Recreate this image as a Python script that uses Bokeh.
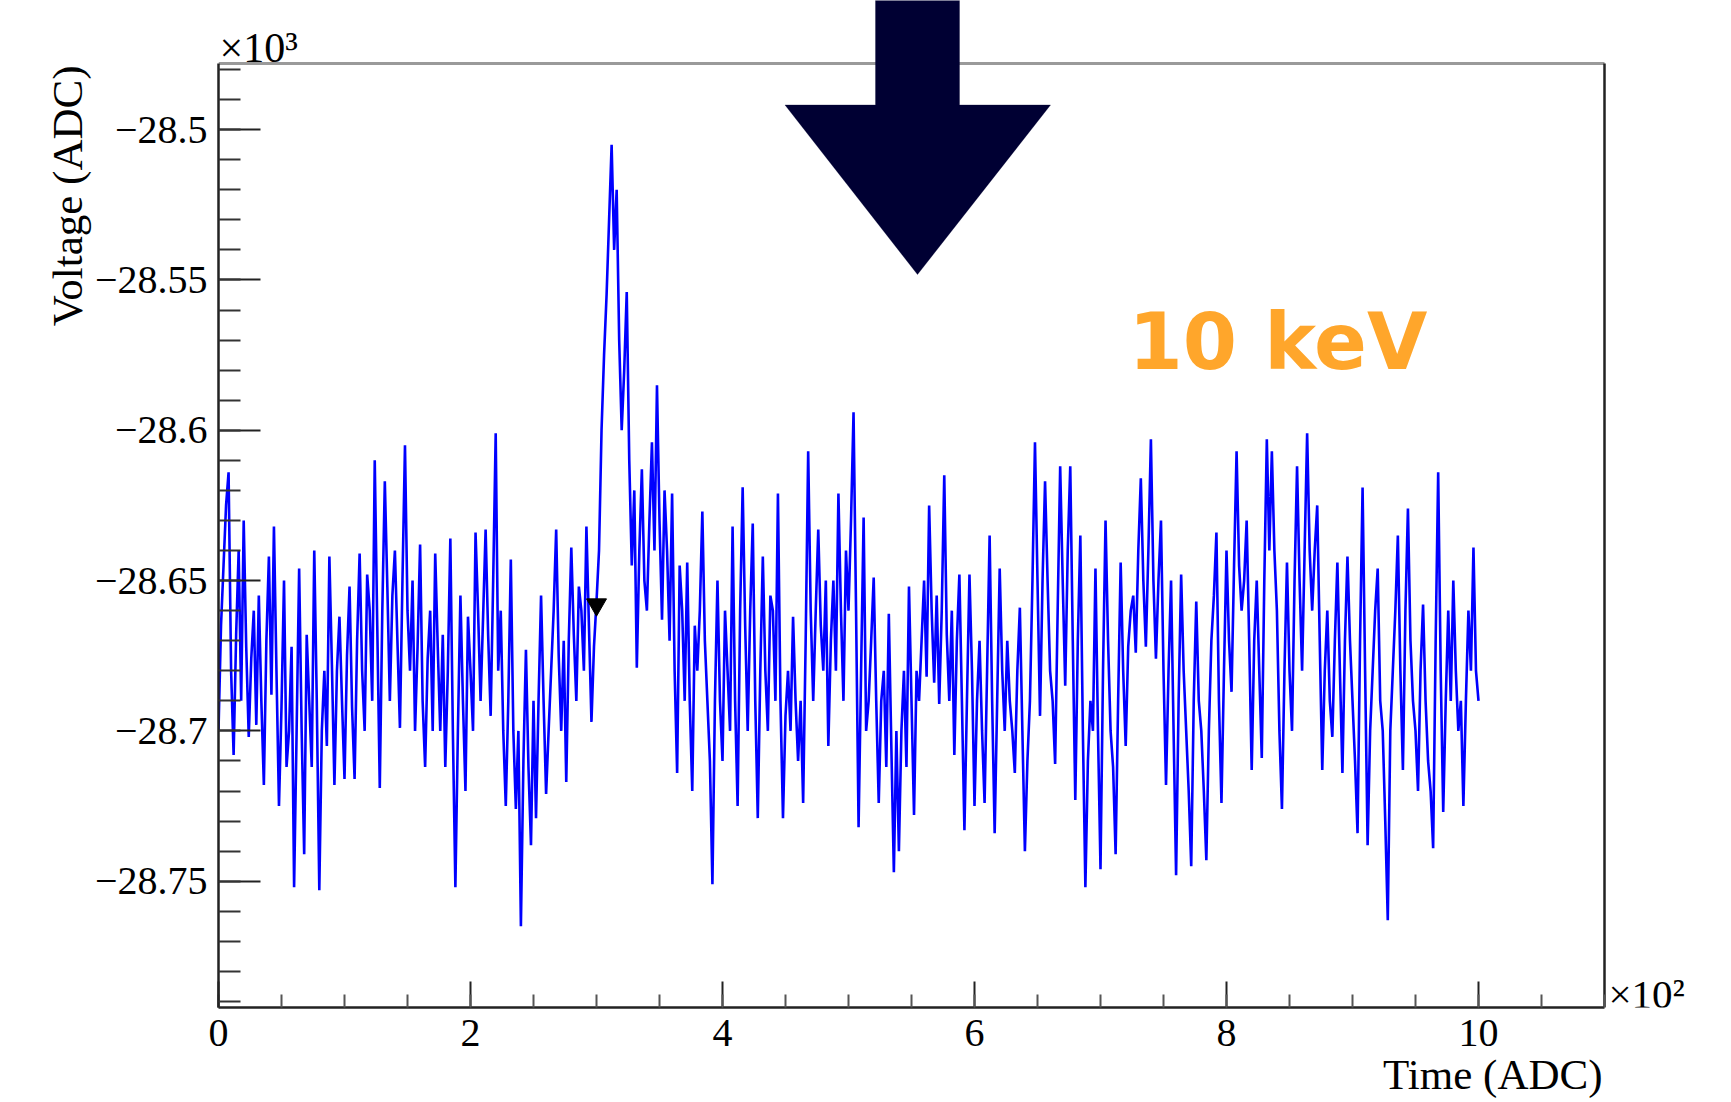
from bokeh.plotting import figure
from bokeh.models import (FixedTicker, CustomJSTickFormatter, Label, Title,
                          PolyAnnotation, Range1d, ColumnDataSource)
from bokeh.embed import file_html
from bokeh.resources import INLINE

# ---------------- data ----------------
# waveform sampled every 2 time bins (ADC); voltage in ADC counts
time = list(range(0, 1001, 2))
voltage = [
    -28700, -28665, -28645, -28625, -28614, -28680, -28708, -28668, -28640, -28690,
    -28630, -28672, -28702, -28676, -28660, -28698, -28655, -28690, -28718, -28670,
    -28642, -28688, -28632, -28680, -28725, -28692, -28650, -28712, -28700, -28672,
    -28752, -28700, -28646, -28700, -28741, -28668, -28690, -28712, -28640, -28690,
    -28753, -28700, -28680, -28705, -28642, -28678, -28718, -28680, -28662, -28690,
    -28716, -28675, -28652, -28692, -28716, -28670, -28641, -28680, -28700, -28648,
    -28660, -28690, -28610, -28665, -28719, -28660, -28617, -28652, -28690, -28655,
    -28640, -28670, -28699, -28650, -28605, -28660, -28680, -28650, -28700, -28672,
    -28638, -28690, -28712, -28676, -28660, -28700, -28641, -28672, -28700, -28668,
    -28712, -28680, -28636, -28700, -28752, -28700, -28655, -28690, -28720, -28662,
    -28680, -28700, -28634, -28660, -28690, -28662, -28633, -28668, -28695, -28650,
    -28601, -28680, -28660, -28700, -28725, -28690, -28643, -28700, -28726, -28700,
    -28765, -28710, -28673, -28712, -28738, -28690, -28729, -28690, -28655, -28690,
    -28721, -28700, -28680, -28660, -28633, -28675, -28700, -28670, -28717, -28670,
    -28639, -28668, -28690, -28652, -28660, -28680, -28632, -28665, -28697, -28672,
    -28657, -28640, -28600, -28575, -28555, -28530, -28505, -28540, -28520, -28570,
    -28600, -28580, -28554, -28610, -28645, -28620, -28679, -28640, -28613, -28650,
    -28660, -28630, -28604, -28640, -28585, -28630, -28663, -28620, -28640, -28670,
    -28621, -28680, -28714, -28645, -28660, -28690, -28644, -28690, -28720, -28665,
    -28680, -28660, -28627, -28670, -28690, -28710, -28751, -28690, -28650, -28690,
    -28710, -28660, -28680, -28700, -28632, -28690, -28725, -28660, -28619, -28665,
    -28700, -28660, -28631, -28690, -28729, -28680, -28642, -28680, -28700, -28655,
    -28660, -28690, -28621, -28690, -28729, -28695, -28680, -28700, -28662, -28690,
    -28710, -28690, -28724, -28670, -28607, -28660, -28690, -28660, -28633, -28665,
    -28680, -28650, -28705, -28670, -28650, -28680, -28621, -28660, -28690, -28640,
    -28660, -28630, -28594, -28660, -28732, -28680, -28629, -28700, -28690, -28670,
    -28649, -28690, -28724, -28690, -28680, -28712, -28661, -28705, -28747, -28700,
    -28740, -28700, -28680, -28712, -28652, -28690, -28728, -28680, -28690, -28670,
    -28650, -28682, -28625, -28660, -28684, -28655, -28691, -28660, -28615, -28668,
    -28690, -28660, -28708, -28670, -28648, -28690, -28733, -28690, -28648, -28680,
    -28725, -28690, -28670, -28700, -28724, -28680, -28635, -28690, -28734, -28690,
    -28646, -28680, -28700, -28670, -28690, -28700, -28714, -28680, -28659, -28700,
    -28740, -28710, -28690, -28650, -28604, -28650, -28695, -28650, -28617, -28650,
    -28680, -28690, -28711, -28660, -28612, -28650, -28685, -28640, -28612, -28670,
    -28723, -28670, -28635, -28700, -28752, -28710, -28690, -28700, -28646, -28700,
    -28746, -28680, -28630, -28670, -28700, -28712, -28741, -28690, -28644, -28680,
    -28705, -28672, -28660, -28655, -28674, -28640, -28616, -28650, -28672, -28640,
    -28603, -28650, -28676, -28650, -28630, -28680, -28718, -28680, -28650, -28700,
    -28748, -28690, -28648, -28680, -28700, -28720, -28745, -28690, -28657, -28690,
    -28700, -28720, -28743, -28700, -28670, -28655, -28634, -28690, -28724, -28680,
    -28640, -28670, -28687, -28645, -28607, -28645, -28660, -28650, -28630, -28670,
    -28713, -28670, -28650, -28680, -28709, -28650, -28603, -28640, -28607, -28640,
    -28660, -28700, -28726, -28680, -28644, -28680, -28700, -28650, -28612, -28650,
    -28680, -28640, -28601, -28640, -28660, -28640, -28625, -28670, -28713, -28680,
    -28660, -28690, -28702, -28670, -28644, -28680, -28714, -28670, -28642, -28670,
    -28690, -28710, -28734, -28670, -28619, -28680, -28738, -28700, -28680, -28660,
    -28646, -28690, -28700, -28730, -28763, -28700, -28680, -28660, -28635, -28680,
    -28713, -28660, -28626, -28670, -28690, -28700, -28720, -28680, -28658, -28690,
    -28710, -28720, -28739, -28670, -28614, -28680, -28727, -28690, -28660, -28690,
    -28650, -28680, -28700, -28690, -28725, -28690, -28660, -28680, -28639, -28680,
    -28690,
]
trigger_time = [300]
trigger_voltage = [-28658]

x_major_ticks = [0, 200, 400, 600, 800, 1000]
x_minor_ticks = list(range(0, 1101, 50))
y_major_ticks = [-28750, -28700, -28650, -28600, -28550, -28500]
y_minor_ticks = list(range(-28790, -28479, 10))

x_title = "Time (ADC)"
y_title = "Voltage (ADC)"
x_exponent = "×10²"
y_exponent = "×10³"
energy_label = "10 keV"

# ---------------- layout ----------------
W, H = 1731, 1102
L, B = 218, 95                 # left / bottom borders (pixels)
BOX_R, BOX_T = 1604, 63        # right / top edges of the drawn frame box (pixels)
X0, X1 = 0, 1100               # axis span shown by the box
Y0, Y1 = -28792, -28478
PX_X = (X1 - X0) / (BOX_R - L)
PX_Y = (Y1 - Y0) / (H - B - BOX_T)
XR = X0 + (W - L) * PX_X       # plotting area extends to the right edge
YT = Y1 + BOX_T * PX_Y         # ... and to the top edge


def dx(px):
    return X0 + (px - L) * PX_X


def dy(py):
    return YT - py * PX_Y


p = figure(width=W, height=H, x_range=Range1d(X0, XR), y_range=Range1d(Y0, YT),
           output_backend="svg", toolbar_location=None,
           min_border_left=L, min_border_right=0, min_border_top=0, min_border_bottom=B)
p.grid.visible = False
p.outline_line_color = None
p.background_fill_color = "white"
p.border_fill_color = "white"

serif = "Liberation Serif"

xa = p.xaxis[0]
xa.bounds = (X0, X1)
xa.ticker = FixedTicker(ticks=x_major_ticks, minor_ticks=x_minor_ticks)
xa.formatter = CustomJSTickFormatter(code="return (tick/100).toString();")
xa.major_tick_in = 26
xa.major_tick_out = 0
xa.minor_tick_in = 13
xa.minor_tick_out = 0
xa.axis_line_width = 2.5
xa.major_tick_line_width = 2
xa.minor_tick_line_width = 2
xa.axis_line_color = "#222222"
xa.major_tick_line_color = "#222222"
xa.minor_tick_line_color = "#555555"
xa.major_label_text_font = serif
xa.major_label_text_font_size = "40px"
xa.major_label_text_color = "black"
xa.major_label_standoff = 12

ya = p.yaxis[0]
ya.bounds = (Y0, Y1)
ya.ticker = FixedTicker(ticks=y_major_ticks, minor_ticks=y_minor_ticks)
ya.formatter = CustomJSTickFormatter(
    code="var s = parseFloat((tick/1000).toFixed(3)).toString(); return s.replace('-', '\u2212');")
ya.major_tick_in = 42
ya.major_tick_out = 0
ya.minor_tick_in = 22
ya.minor_tick_out = 0
ya.axis_line_width = 2.5
ya.major_tick_line_width = 2
ya.minor_tick_line_width = 2
ya.axis_line_color = "#222222"
ya.major_tick_line_color = "#222222"
ya.minor_tick_line_color = "#333333"
ya.major_label_text_font = serif
ya.major_label_text_font_size = "40px"
ya.major_label_text_color = "black"
ya.major_label_standoff = 11

# axis titles in the side panels
p.add_layout(Title(text=x_title, align="right", offset=(W - BOX_R) + 2, standoff=0,
                   text_font=serif, text_font_size="43px", text_font_style="normal",
                   text_color="black"), "below")
p.add_layout(Title(text=y_title, align="right", offset=BOX_T + 2, standoff=2,
                   text_font=serif, text_font_size="43px", text_font_style="normal",
                   text_color="black"), "left")

# frame box: top (grey) and right (black) edges
p.segment(x0=[X0], y0=[Y1], x1=[X1], y1=[Y1], line_color="#9a9a9a", line_width=3)
p.segment(x0=[X1], y0=[Y0], x1=[X1], y1=[Y1], line_color="#222222", line_width=2.5)

src = ColumnDataSource(dict(t=time, v=voltage))
p.line("t", "v", source=src, line_color="#0000ff", line_width=2.6)
p.scatter(trigger_time, trigger_voltage, marker="inverted_triangle", size=20,
          fill_color="black", line_color="black")


def label(px, base_py, text, font, size, color, bold=False):
    # Label y shifted to compensate for where the text baseline lands
    p.add_layout(Label(x=dx(px), y=dy(base_py - 0.34 * size), text=text, text_align="left",
                       text_baseline="alphabetic", text_font=font,
                       text_font_style="bold" if bold else "normal",
                       text_font_size=f"{size}px", text_color=color, level="overlay"))


label(L + 1, 62, y_exponent, serif, 42, "black")
label(1608, 1007, x_exponent, serif, 41, "black")

# big arrow
ax = [875, 959, 959, 1050, 917, 784.5, 875]
ay = [-5, -5, 104.5, 104.5, 274, 104.5, 104.5]
p.add_layout(PolyAnnotation(xs=[dx(a) for a in ax], ys=[dy(b) for b in ay],
                            fill_color="#000033", fill_alpha=1.0, line_color="#000033",
                            line_width=1, level="overlay"))

label(1128, 368, energy_label, "DejaVu Sans", 78, "#ffa62b", bold=True)

open("out.html", "w").write(file_html(p, INLINE))
